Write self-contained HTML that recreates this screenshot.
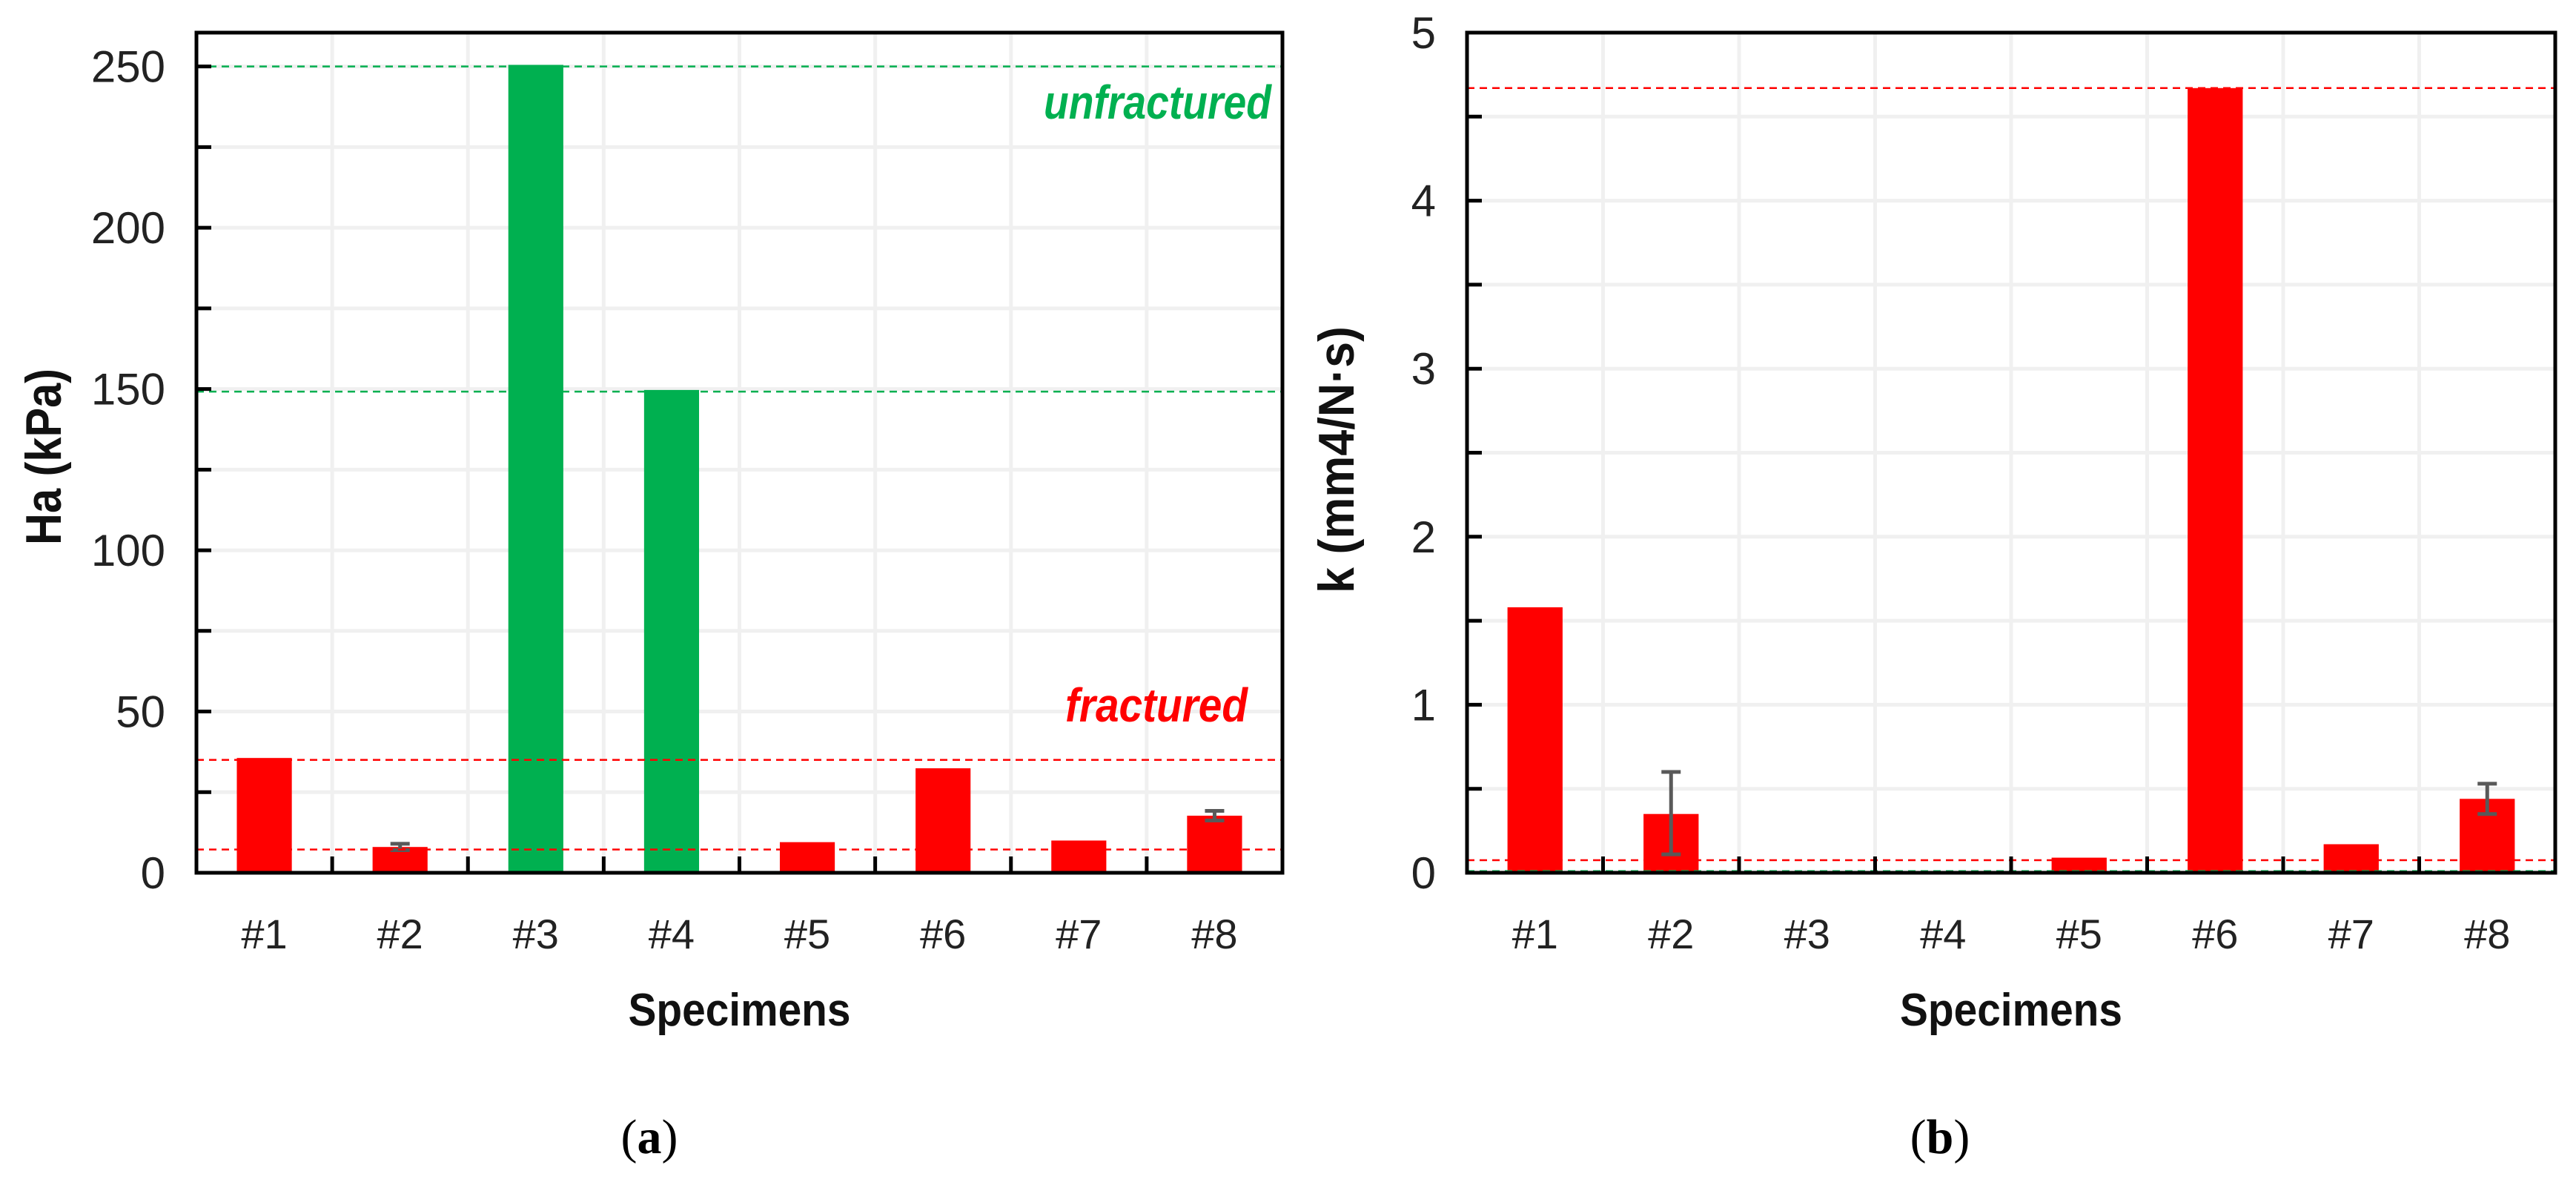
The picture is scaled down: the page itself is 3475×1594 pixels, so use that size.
<!DOCTYPE html>
<html><head><meta charset="utf-8"><style>
html,body{margin:0;padding:0;background:#fff;}
svg{display:block;font-family:"Liberation Sans",sans-serif;}
</style></head><body>
<svg id="fig" width="3475" height="1594" viewBox="0 0 3475 1594" xmlns="http://www.w3.org/2000/svg"></svg>
<script>
const categories = ["#1","#2","#3","#4","#5","#6","#7","#8"];
const haValues = [35.6, 8, 250.5, 149.7, 9.5, 32.4, 10, 17.7];
const haErrors = [0, 1, 0, 0, 0, 0, 0, 1.5];
const haColors = ["red","red","green","green","red","red","red","red"];
const haTicks = [0, 50, 100, 150, 200, 250];
const haRefRed = [35, 7.2];
const haRefGreen = [250, 149.2];
const kValues = [1.58, 0.35, 0, 0.006, 0.09, 4.67, 0.17, 0.44];
const kErrHigh = [1.58, 0.60, 0, 0.006, 0.09, 4.67, 0.17, 0.53];
const kErrLow = [1.58, 0.11, 0, 0.006, 0.09, 4.67, 0.17, 0.35];
const kColors = ["red","red","red","green","red","red","red","red"];
const kTicks = [0, 1, 2, 3, 4, 5];
const kRefRed = [4.67, 0.075];
const kRefGreen = [0.01];

const NS = "http://www.w3.org/2000/svg";
const svg = document.getElementById("fig");
function el(tag, attrs, parent, text){
  const e = document.createElementNS(NS, tag);
  for (const k in attrs) e.setAttribute(k, attrs[k]);
  if (text !== undefined) e.textContent = text;
  (parent || svg).appendChild(e);
  return e;
}
const COL = {red:"#ff0000", green:"#00b050"};

function chart(o){
  const g = el("g", {});
  
  
  const L=o.x0, R=o.x1, T=o.top, B=o.bottom;
  const y = v => B - (v - 0) / (o.max) * (B - T);
  const band = (R - L) / categories.length;
  const xc = i => L + band * (i + 0.5);
  for (let v = 0; v <= o.max + 1e-9; v += o.minor) {
    const gl = el("line", {x1:L, x2:R, y1:y(v), y2:y(v), stroke:"#f0f0f0", "stroke-width":5}, g);
    
    
  }
  for (let i = 1; i < categories.length; i++) {
    const gl = el("line", {x1:L+band*i, x2:L+band*i, y1:T, y2:B, stroke:"#f0f0f0", "stroke-width":5}, g);
    
    
  }
  const bw = band * 0.405;
  o.values.forEach((v, i) => {
    const b = el("rect", {x:xc(i)-bw/2, y:y(v), width:bw, height:Math.max(0, B - y(v)), fill:COL[o.colors[i]]}, g);
    
    
  });
  o.values.forEach((v, i) => {
    const hi = o.errHi[i], lo = o.errLo[i];
    if (hi - lo <= 0) return;
    const eg = el("g", {stroke:"#595959", "stroke-width":5}, g);
    
    
    el("line", {x1:xc(i), x2:xc(i), y1:y(hi), y2:y(lo)}, eg);
    el("line", {x1:xc(i)-13, x2:xc(i)+13, y1:y(hi), y2:y(hi)}, eg);
    el("line", {x1:xc(i)-13, x2:xc(i)+13, y1:y(lo), y2:y(lo)}, eg);
  });
  o.refRed.forEach(v => {
    const l = el("line", {x1:L, x2:R, y1:y(v), y2:y(v), stroke:"#ff0000", "stroke-width":2.5, "stroke-dasharray":"10 7"}, g);
    
    
  });
  o.refGreen.forEach(v => {
    const l = el("line", {x1:L, x2:R, y1:y(v), y2:y(v), stroke:"#00b050", "stroke-width":2.5, "stroke-dasharray":"10 7"}, g);
    
    
  });
  const fr = el("rect", {x:L, y:T, width:R-L, height:B-T, fill:"none", stroke:"#000", "stroke-width":5}, g);
  
  
  for (let v = 0; v <= o.max + 1e-9; v += o.minor) {
    el("line", {x1:L, x2:L+20, y1:y(v), y2:y(v), stroke:"#000", "stroke-width":5}, g);
  }
  o.ticks.forEach(v => {
    const t = el("text", {x:L-42, y:y(v)+21, "text-anchor":"end", "font-size":60, fill:"#222"}, g, String(v));
    
    
  });
  for (let i = 1; i < categories.length; i++) {
    el("line", {x1:L+band*i, x2:L+band*i, y1:B, y2:B-22, stroke:"#000", "stroke-width":5}, g);
  }
  categories.forEach((c, i) => {
    const t = el("text", {x:xc(i), y:B+102, "text-anchor":"middle", "font-size":56, fill:"#222"}, g, c);
    
    
  });
  const xt = el("text", {x:(L+R)/2, y:B+206, "text-anchor":"middle", "font-size":62, "font-weight":"bold", fill:"#111", textLength:300, lengthAdjust:"spacingAndGlyphs"}, g, "Specimens");
  
  
  const yt = el("text", {x:0, y:0, "text-anchor":"middle", "font-size":68, "font-weight":"bold", fill:"#111", transform:`translate(${o.ytx},${o.yty}) rotate(-90)`, textLength:o.ytLen, lengthAdjust:"spacingAndGlyphs"}, g, o.ytitle);
  
  
  const cap = el("text", {x:o.capx, y:1555, "text-anchor":"middle", "font-size":66, fill:"#000", "font-family":"Liberation Serif, serif"}, g);
  
  
  el("tspan", {}, cap, "(");
  el("tspan", {"font-weight":"bold"}, cap, o.cap);
  el("tspan", {}, cap, ")");
  return {g, y};
}

const a = chart({name:"chart-ha", x0:265, x1:1730, top:44, bottom:1177, max:260.5, minor:25,
  values:haValues, colors:haColors, errHi:haValues.map((v,i)=>v+haErrors[i]), errLo:haValues.map((v,i)=>v-haErrors[i]),
  ticks:haTicks, refRed:haRefRed, refGreen:haRefGreen, ytitle:"Ha (kPa)", ytx:82, yty:616, ytLen:238, capx:876, cap:"a"});
const un = el("text", {x:1715, y:160, "text-anchor":"end", "font-size":64, "font-weight":"bold", "font-style":"italic", fill:"#00b050", textLength:307, lengthAdjust:"spacingAndGlyphs"}, a.g, "unfractured");


const frl = el("text", {x:1683, y:973, "text-anchor":"end", "font-size":64, "font-weight":"bold", "font-style":"italic", fill:"#ff0000", textLength:246, lengthAdjust:"spacingAndGlyphs"}, a.g, "fractured");



chart({name:"chart-k", x0:1979, x1:3447, top:44, bottom:1177, max:5, minor:0.5,
  values:kValues, colors:kColors, errHi:kErrHigh, errLo:kErrLow,
  ticks:kTicks, refRed:kRefRed, refGreen:kRefGreen, ytitle:"k (mm4/N·s)", ytx:1826, yty:620, ytLen:360, capx:2617, cap:"b"});
</script>
</body></html>
